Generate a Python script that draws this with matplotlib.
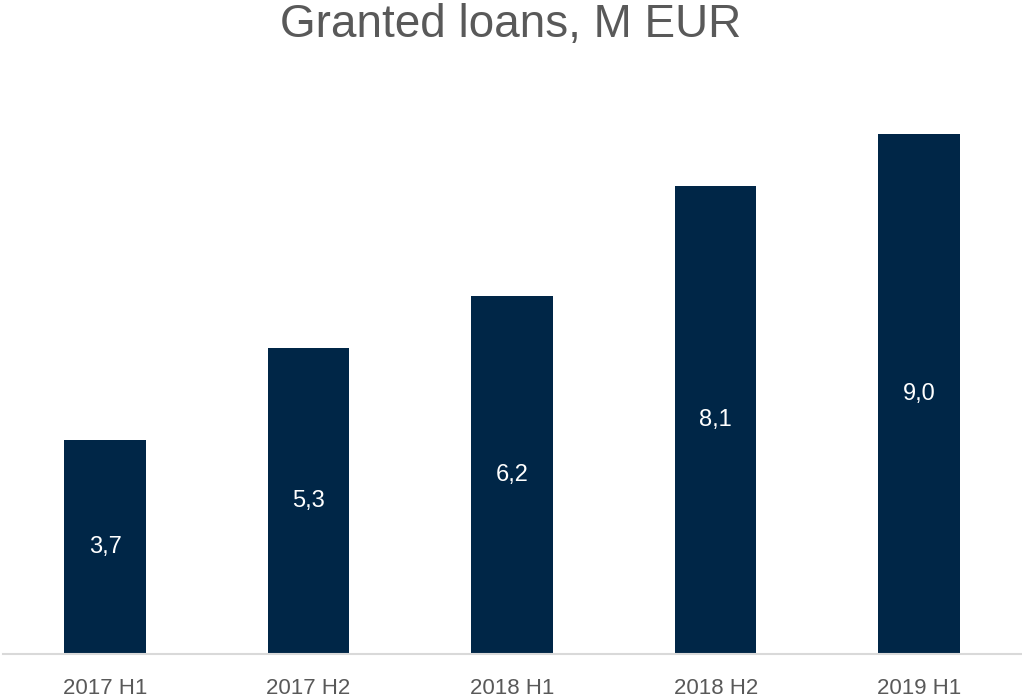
import matplotlib.pyplot as plt

periods = ["2017 H1", "2017 H2", "2018 H1", "2018 H2", "2019 H1"]
loans = [3.7, 5.3, 6.2, 8.1, 9.0]

plt.rcParams['font.family'] = ['Liberation Sans', 'DejaVu Sans']

fig = plt.figure(figsize=(10.22, 7.0), dpi=100)
ax = fig.add_axes([0.0032, 0.0657, 0.9958, 0.826])

x = range(len(periods))
bars = ax.bar(x, loans, width=0.4, color="#002647")

# value labels sit in the middle of each bar, comma as decimal sign
for rect, val in zip(bars, loans):
	ax.text(rect.get_x() + rect.get_width() / 2, val / 2, f"{val:.1f}".replace(".", ","),
		ha="center", va="center", color="white", fontsize=17)

ax.set_xlim(-0.5, len(periods) - 0.5)
ax.set_ylim(0, 10)
ax.set_xticks(list(x))
ax.set_xticklabels(periods, fontsize=16, color="#595959")
ax.tick_params(axis="x", length=0, pad=17)
ax.set_yticks([])

for side in ["top", "right", "left"]:
	ax.spines[side].set_visible(False)
ax.spines["bottom"].set_color("#d9d9d9")
ax.spines["bottom"].set_linewidth(1.5)

fig.text(0.5, 1 - 37 / 700, "Granted loans, M EUR", ha="center", va="baseline",
	fontsize=33, color="#595959")

fig.savefig("out.png", dpi=100, facecolor="white")
